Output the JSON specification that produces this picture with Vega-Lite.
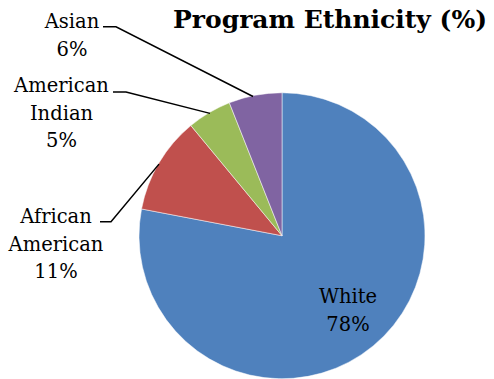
{
  "$schema": "https://vega.github.io/schema/vega-lite/v6.json",
  "width": 494,
  "height": 379,
  "autosize": {"type": "fit", "contains": "padding"},
  "padding": 0,
  "background": "white",
  "config": {"view": {"stroke": null}},
  "datasets": {
    "slices": [
      {"group": "White", "pct": 78, "ord": 1},
      {"group": "African American", "pct": 11, "ord": 2},
      {"group": "American Indian", "pct": 5, "ord": 3},
      {"group": "Asian", "pct": 6, "ord": 4}
    ],
    "callouts": [
      {"group": "White", "label": "White\n78%", "lx": 348, "ly": 305},
      {"group": "African American", "label": "African\nAmerican\n11%", "lx": 56, "ly": 224.5},
      {"group": "American Indian", "label": "American\nIndian\n5%", "lx": 61.5, "ly": 92.5},
      {"group": "Asian", "label": "Asian\n6%", "lx": 72, "ly": 28.5}
    ],
    "leaders": [
      {"group": "Asian", "step": 1, "px": 103, "py": 27},
      {"group": "Asian", "step": 2, "px": 116, "py": 27},
      {"group": "Asian", "step": 3, "px": 253, "py": 97},
      {"group": "American Indian", "step": 1, "px": 113, "py": 92.5},
      {"group": "American Indian", "step": 2, "px": 126, "py": 92.5},
      {"group": "American Indian", "step": 3, "px": 210, "py": 114},
      {"group": "African American", "step": 1, "px": 100, "py": 223},
      {"group": "African American", "step": 2, "px": 111, "py": 223},
      {"group": "African American", "step": 3, "px": 159, "py": 165}
    ],
    "titles": [
      {"title": "Program Ethnicity (%)", "tx": 330, "ty": 28}
    ]
  },
  "layer": [
    {
      "data": {"name": "slices"},
      "mark": {"type": "arc", "outerRadius": 143, "stroke": "white", "strokeWidth": 0.5},
      "encoding": {
        "theta": {"field": "pct", "type": "quantitative", "stack": true},
        "order": {"field": "ord", "type": "quantitative"},
        "color": {
          "field": "group",
          "type": "nominal",
          "scale": {
            "domain": ["White", "African American", "American Indian", "Asian"],
            "range": ["#4F81BD", "#C0504D", "#9BBB59", "#8064A2"]
          },
          "legend": null
        },
        "x": {"datum": 282, "type": "quantitative", "scale": {"domain": [0, 494], "nice": false, "zero": false}, "axis": null},
        "y": {"datum": 237, "type": "quantitative", "scale": {"domain": [0, 379], "nice": false, "zero": false, "reverse": true}, "axis": null}
      }
    },
    {
      "data": {"name": "leaders"},
      "mark": {"type": "line", "color": "black", "strokeWidth": 1.5},
      "encoding": {
        "x": {"field": "px", "type": "quantitative", "scale": {"domain": [0, 494], "nice": false, "zero": false}, "axis": null},
        "y": {"field": "py", "type": "quantitative", "scale": {"domain": [0, 379], "nice": false, "zero": false, "reverse": true}, "axis": null},
        "detail": {"field": "group"},
        "order": {"field": "step", "type": "quantitative"}
      }
    },
    {
      "data": {"name": "callouts"},
      "mark": {"type": "text", "font": "DejaVu Serif", "fontSize": 19.5, "lineHeight": 27.5, "lineBreak": "\n", "align": "center", "baseline": "alphabetic", "color": "black"},
      "encoding": {
        "x": {"field": "lx", "type": "quantitative", "scale": {"domain": [0, 494], "nice": false, "zero": false}, "axis": null},
        "y": {"field": "ly", "type": "quantitative", "scale": {"domain": [0, 379], "nice": false, "zero": false, "reverse": true}, "axis": null},
        "text": {"field": "label"}
      }
    },
    {
      "data": {"name": "titles"},
      "mark": {"type": "text", "font": "DejaVu Serif", "fontSize": 25, "fontWeight": "bold", "align": "center", "baseline": "alphabetic", "color": "black"},
      "encoding": {
        "x": {"field": "tx", "type": "quantitative", "scale": {"domain": [0, 494], "nice": false, "zero": false}, "axis": null},
        "y": {"field": "ty", "type": "quantitative", "scale": {"domain": [0, 379], "nice": false, "zero": false, "reverse": true}, "axis": null},
        "text": {"field": "title"}
      }
    }
  ]
}
